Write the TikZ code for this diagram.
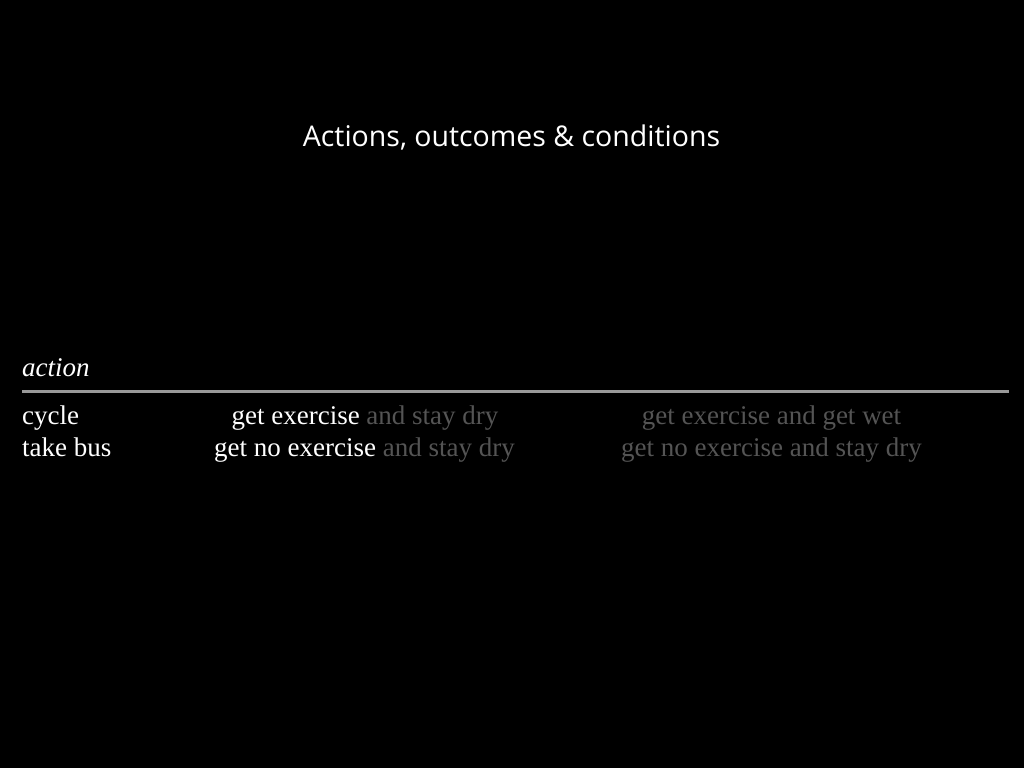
\documentclass[tikz,border=0pt]{standalone}
\usepackage{fontspec}
\setmainfont{Liberation Serif}
\newfontfamily\titlefont{Open Sans}
\definecolor{dimtext}{gray}{0.33}
\definecolor{rulegray}{gray}{0.6}
\begin{document}
\begin{tikzpicture}[x=1pt,y=-1pt,
  body/.style={inner sep=0pt, font=\fontsize{27}{30}\selectfont, text=white},
  ttl/.style={inner sep=0pt, font=\titlefont\fontsize{28.5}{32}\selectfont, text=white}]
\fill[black] (0,0) rectangle (1024,768);
\useasboundingbox (0,0) rectangle (1024,768);
\node[ttl, anchor=base] (title) at (511.5,146) {Actions, outcomes \& conditions};
\node[body, anchor=base west] (action) at (22,376) {\itshape action};
\coordinate (rl) at (22,391.5);
\coordinate (rr) at (1009,391.5);
\draw[rulegray, line width=3pt] (rl) -- (rr);
\node[body, anchor=base west] (cycle) at (22,424) {cycle};
\node[body, anchor=base west] (bus) at (22,456) {take bus};
\node[body, anchor=base] (c1) at (365,424) {get exercise \textcolor{dimtext}{and stay dry}};
\node[body, anchor=base] (b1) at (364.5,456) {get no exercise \textcolor{dimtext}{and stay dry}};
\node[body, anchor=base, text=dimtext] (c2) at (771.5,424) {get exercise and get wet};
\node[body, anchor=base, text=dimtext] (b2) at (771.5,456) {get no exercise and stay dry};
\end{tikzpicture}
\end{document}
